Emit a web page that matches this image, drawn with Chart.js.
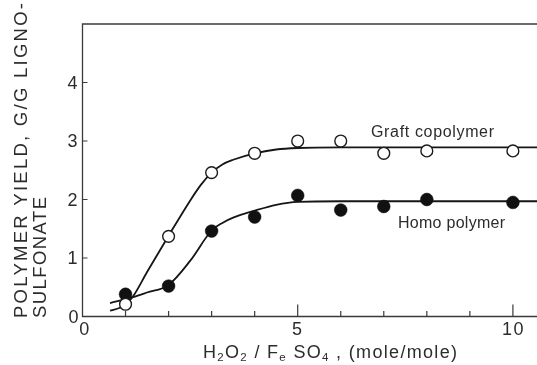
<!DOCTYPE html>
<html>
<head>
<meta charset="utf-8">
<script src="https://cdn.jsdelivr.net/npm/chart.js@4.4.1/dist/chart.umd.min.js"></script>
<style>
  html, body { margin: 0; padding: 0; background: #fff; }
  canvas { display: block; }
</style>
</head>
<body>
<canvas id="c" width="537" height="365"></canvas>
<script>
// Measured runs: H2O2 / FeSO4 mole ratio
const doseRatio = [1, 2, 3, 4, 5, 6, 7, 8, 10];
// Polymer yield, g per g lignosulfonate
const graftYield = [0.21, 1.37, 2.46, 2.79, 3.00, 3.00, 2.79, 2.83, 2.83];
const homoYield  = [0.38, 0.52, 1.46, 1.70, 2.07, 1.82, 1.88, 2.00, 1.95];

// Hand-drawn trend curves through the measurements
const graftFitX = [0.64, 0.87, 1.0, 1.17, 1.5, 2.0, 2.5, 2.75, 3.0, 3.25, 3.5, 4.0, 4.5, 5.0, 6.0, 8.0, 10.56];
const graftFitY = [0.10, 0.15, 0.21, 0.34, 0.76, 1.38, 1.98, 2.25, 2.46, 2.60, 2.68, 2.79, 2.855, 2.88, 2.89, 2.89, 2.89];
const homoFitX  = [0.64, 1.17, 1.5, 2.0, 2.5, 3.0, 3.25, 3.5, 4.0, 4.5, 5.0, 6.0, 8.0, 10.56];
const homoFitY  = [0.23, 0.33, 0.41, 0.54, 0.95, 1.47, 1.60, 1.69, 1.81, 1.91, 1.96, 1.97, 1.97, 1.97];

// Axis ticks and labels
const xTickMarks  = [1, 2, 3, 4, 5, 6, 7, 8, 9, 10];
const xMajorTicks = [5, 10];
const xTickLabels = [0, 5, 10];
const yTickMarks  = [1, 2, 3, 4];
const yTickLabels = [0, 1, 2, 3, 4];

const seriesNames = ['Graft copolymer', 'Homo polymer'];
const yTitleLines = ['POLYMER YIELD, G/G LIGNO-', 'SULFONATE'];
// x title pieces; sub = drawn as subscript
const xTitleParts = [
  { t: 'H' }, { t: '2', sub: true }, { t: 'O' }, { t: '2', sub: true },
  { t: ' / F' }, { t: 'e', sub: true }, { t: ' SO' }, { t: '4', sub: true },
  { t: ' , (mole/mole)' }
];

const FONT = '"Liberation Sans", Arial, Helvetica, sans-serif';
const INK = '#2c2c2c';

function setFont(ctx, size, spacing) {
  ctx.font = size + 'px ' + FONT;
  ctx.letterSpacing = (spacing || 0) + 'px';
}

// letter spacing that stretches a string to a given width
function spacingFor(ctx, str, size, width) {
  setFont(ctx, size, 0);
  const w = ctx.measureText(str).width;
  const n = [...str].length;
  return n > 1 ? (width - w) / (n - 1) : 0;
}

function drawSpaced(ctx, str, x, y, size, width) {
  const sp = width ? spacingFor(ctx, str, size, width) : 0;
  setFont(ctx, size, sp);
  ctx.textAlign = 'left';
  ctx.textBaseline = 'alphabetic';
  ctx.fillText(str, x, y);
}

const paperPlugin = {
  id: 'paper',
  beforeDraw(chart) {
    const ctx = chart.ctx;
    ctx.save();
    ctx.fillStyle = '#fff';
    ctx.fillRect(0, 0, chart.width, chart.height);
    ctx.restore();
  },
  beforeDatasetsDraw(chart) {
    const { ctx, chartArea: a, scales: { x, y } } = chart;
    ctx.save();
    ctx.strokeStyle = '#3a3a3a';
    ctx.lineWidth = 1.3;
    ctx.beginPath();
    ctx.moveTo(chart.width, a.top);
    ctx.lineTo(a.left, a.top);
    ctx.lineTo(a.left, a.bottom);
    ctx.lineTo(chart.width, a.bottom);
    ctx.stroke();

    // inward tick marks
    ctx.lineWidth = 1.2;
    ctx.beginPath();
    xTickMarks.forEach(v => {
      const px = x.getPixelForValue(v);
      const len = xMajorTicks.includes(v) ? 12 : 5.5;
      ctx.moveTo(px, a.bottom);
      ctx.lineTo(px, a.bottom - len);
    });
    yTickMarks.forEach(v => {
      const py = y.getPixelForValue(v);
      ctx.moveTo(a.left, py);
      ctx.lineTo(a.left + 5, py);
    });
    ctx.stroke();
    ctx.restore();
  },
  afterDraw(chart) {
    const { ctx, chartArea: a, scales: { x, y } } = chart;
    ctx.save();
    ctx.fillStyle = INK;

    // y tick labels
    setFont(ctx, 18, 0);
    ctx.textAlign = 'right';
    ctx.textBaseline = 'alphabetic';
    yTickLabels.forEach(v => {
      const py = y.getPixelForValue(v);
      ctx.fillText(String(v), a.left - 5 + (v === 0 ? 1 : 0), py + 6.4 + (v === 0 ? 0.5 : 0));
    });

    // x tick labels
    setFont(ctx, 18, 1.5);
    ctx.textAlign = 'center';
    xTickLabels.forEach(v => {
      const px = x.getPixelForValue(v) + (v === 0 ? 2.5 : 0) + (v >= 10 ? 0.5 : 0);
      ctx.fillText(String(v), px, a.bottom + 18.5);
    });

    // x axis title with subscripts
    const mainSize = 18, subSize = 11.5;
    let natural = 0, count = 0;
    xTitleParts.forEach(p => {
      setFont(ctx, p.sub ? subSize : mainSize, 0);
      natural += ctx.measureText(p.t).width;
      count += [...p.t].length;
    });
    const sp = (254 - natural) / (count - 1);
    let cx = 203;
    const base = 358;
    ctx.textAlign = 'left';
    xTitleParts.forEach(p => {
      setFont(ctx, p.sub ? subSize : mainSize, sp);
      ctx.fillText(p.t, cx, p.sub ? base + 2.5 : base);
      cx += ctx.measureText(p.t).width;
    });

    // y axis title, two rotated lines reading upward
    const yTitleSize = 18.5;
    const yTitleCentres = [20, 39.5];
    const yTitleLengths = [315, 121];
    yTitleLines.forEach((line, i) => {
      ctx.save();
      ctx.translate(yTitleCentres[i], 318);
      ctx.rotate(-Math.PI / 2);
      drawSpaced(ctx, line, 0, 0.358 * yTitleSize, yTitleSize, yTitleLengths[i]);
      ctx.restore();
    });

    // curve labels
    drawSpaced(ctx, seriesNames[0], 371, 137.3, 16, 123);
    drawSpaced(ctx, seriesNames[1], 398, 228.3, 16, 107);

    ctx.restore();
  }
};

const pts = (xs, ys) => xs.map((v, i) => ({ x: v, y: ys[i] }));

new Chart(document.getElementById('c'), {
  type: 'scatter',
  data: {
    datasets: [
      {
        label: seriesNames[0] + ' curve',
        data: pts(graftFitX, graftFitY),
        showLine: true,
        pointRadius: 0,
        borderColor: '#161616',
        borderWidth: 1.8,
        cubicInterpolationMode: 'monotone',
        order: 2
      },
      {
        label: seriesNames[1] + ' curve',
        data: pts(homoFitX, homoFitY),
        showLine: true,
        pointRadius: 0,
        borderColor: '#161616',
        borderWidth: 1.8,
        cubicInterpolationMode: 'monotone',
        order: 2
      },
      {
        label: seriesNames[0],
        data: pts(doseRatio, graftYield),
        pointRadius: 5.9,
        pointBackgroundColor: '#ffffff',
        pointBorderColor: '#1c1c1c',
        pointBorderWidth: 1.4,
        order: 1
      },
      {
        label: seriesNames[1],
        data: pts(doseRatio, homoYield),
        pointRadius: 6.4,
        pointBackgroundColor: '#111111',
        pointBorderColor: '#111111',
        pointBorderWidth: 0.5,
        order: 1
      }
    ]
  },
  options: {
    responsive: false,
    animation: false,
    devicePixelRatio: 1,
    events: [],
    layout: { autoPadding: false, padding: { left: 82.5, top: 24, right: 0, bottom: 48.5 } },
    scales: {
      x: { type: 'linear', min: 0, max: 10.56, display: false },
      y: { type: 'linear', min: 0, max: 5, display: false }
    },
    plugins: {
      legend: { display: false },
      tooltip: { enabled: false }
    }
  },
  plugins: [paperPlugin]
});
</script>
</body>
</html>
